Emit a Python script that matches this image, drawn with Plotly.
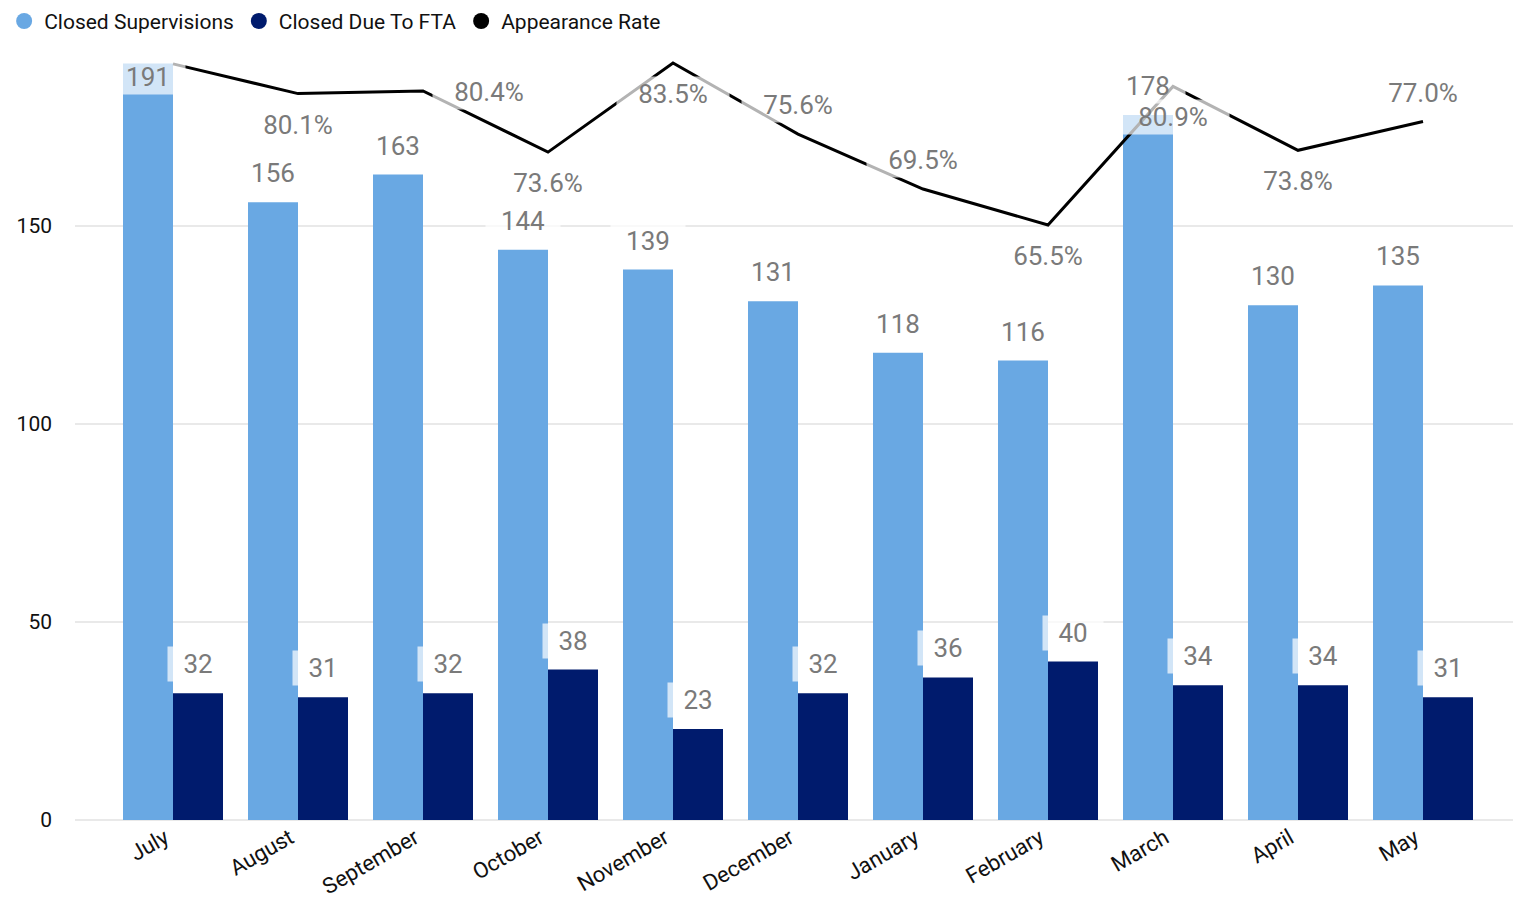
import plotly.graph_objects as go

months = ["July", "August", "September", "October", "November", "December",
          "January", "February", "March", "April", "May"]
closed_supervisions = [191, 156, 163, 144, 139, 131, 118, 116, 178, 130, 135]
closed_fta = [32, 31, 32, 38, 23, 32, 36, 40, 34, 34, 31]
appearance_rate = [83.4, 80.1, 80.4, 73.6, 83.5, 75.6, 69.5, 65.5, 80.9, 73.8, 77.0]
rate_label_pos = ["hide", "below", "right", "below", "below", "above",
                  "above", "below", "below", "below", "above"]

LIGHT = "#69A8E3"
DARK = "#001B6D"
LABEL_GRAY = "#7A7A7A"
TEXT = "#111111"
FONT = "Roboto"
Y_MAX = 195.7
Y2_RANGE = [-0.6, 85.5]

xs = list(range(len(months)))

fig = go.Figure()
fig.add_trace(go.Bar(x=xs, y=closed_supervisions, name="Closed Supervisions",
                     marker=dict(color=LIGHT, line=dict(width=0)), showlegend=False))
fig.add_trace(go.Bar(x=xs, y=closed_fta, name="Closed Due To FTA",
                     marker=dict(color=DARK, line=dict(width=0)), showlegend=False))
fig.add_trace(go.Scatter(x=xs, y=appearance_rate, name="Appearance Rate", yaxis="y2",
                         mode="lines", line=dict(color="black", width=3), showlegend=False))

# legend-only entries with circle symbols
for name, col in [("Closed Supervisions", LIGHT), ("Closed Due To FTA", DARK),
                  ("Appearance Rate", "black")]:
    fig.add_trace(go.Scatter(x=[None], y=[None], mode="markers", name=name,
                             marker=dict(symbol="circle", size=20, color=col)))

BG = "rgba(255,255,255,0.7)"
LBL_FONT = dict(family=FONT, size=26, color=LABEL_GRAY)
annotations = []
for i, v in enumerate(closed_supervisions):
    txt = str(v)
    inside = v > Y_MAX - 12
    annotations.append(dict(x=i - 0.2, y=v, xref="x", yref="y", text=txt, showarrow=False,
                            yanchor="middle", yshift=(-13 if inside else 29),
                            font=LBL_FONT, bgcolor=BG,
                            width=14 * len(txt) + 32, height=34, borderpad=0))
for i, v in enumerate(closed_fta):
    txt = str(v)
    annotations.append(dict(x=i + 0.2, y=v, xref="x", yref="y", text=txt, showarrow=False,
                            yanchor="middle", yshift=29,
                            font=LBL_FONT, bgcolor=BG,
                            width=14 * len(txt) + 32, height=34, borderpad=0))
for i, (v, pos) in enumerate(zip(appearance_rate, rate_label_pos)):
    if pos == "hide":
        continue
    txt = f"{v:.1f}%"
    ys = {"below": -31, "above": 29, "right": -1}[pos]
    xsh = 66 if pos == "right" else 0
    annotations.append(dict(x=i, y=v, xref="x", yref="y2", text=txt, showarrow=False,
                            yanchor="middle", yshift=ys, xshift=xsh,
                            font=LBL_FONT, bgcolor=BG, width=112, height=34, borderpad=0))

fig.update_layout(
    width=1513, height=903,
    margin=dict(l=67, r=0, t=37, b=91, autoexpand=False),
    paper_bgcolor="white", plot_bgcolor="white",
    barmode="group", bargap=0.2, bargroupgap=0,
    font=dict(family=FONT, size=20, color=TEXT),
    legend=dict(orientation="h", xref="paper", yref="paper", x=-0.049, y=1.057,
                xanchor="left", yanchor="top", font=dict(family=FONT, size=21, color=TEXT),
                itemwidth=30, tracegroupgap=0, bgcolor="rgba(0,0,0,0)"),
    xaxis=dict(range=[-0.784, 10.784], tickmode="array", tickvals=xs, ticktext=months,
               tickangle=-30, showgrid=False, zeroline=False, showline=False, ticks="",
               ticklabelshift=-8, ticklabelstandoff=0,
               tickfont=dict(family=FONT, size=22, color=TEXT)),
    yaxis=dict(range=[0, Y_MAX], tickvals=[0, 50, 100, 150], showgrid=True,
               gridcolor="#E9E9E9", gridwidth=2, zeroline=True, zerolinecolor="#E9E9E9",
               zerolinewidth=2, ticks="", ticklabelstandoff=22,
               tickfont=dict(family=FONT, size=21, color=TEXT)),
    yaxis2=dict(range=Y2_RANGE, overlaying="y", side="right", visible=False, showgrid=False),
    annotations=annotations,
)

fig.write_html("out.html")
